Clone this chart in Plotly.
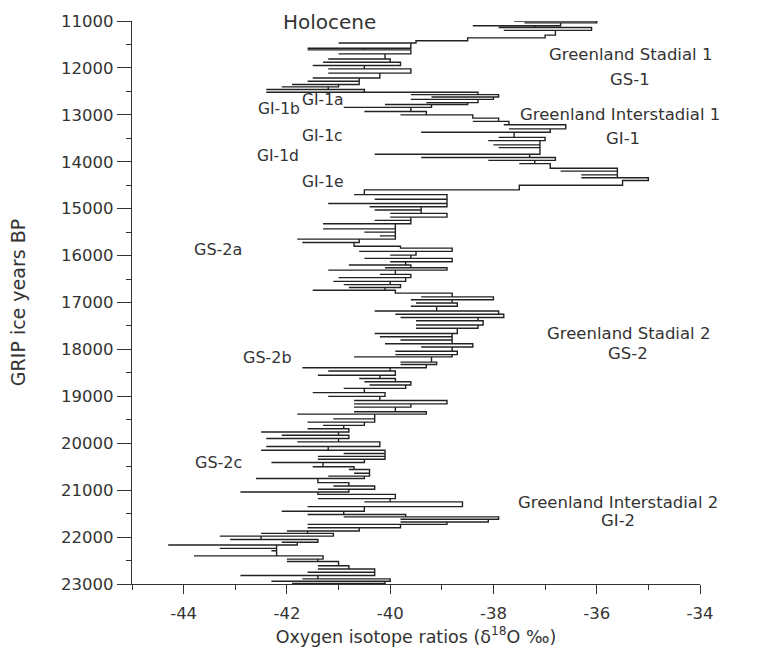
import plotly.graph_objects as go

# Read-off rows of the GRIP d18O record: age (yr BP), low and high value in the row
row_age = [11000, 11040, 11100, 11140, 11200, 11300, 11360, 11420, 11470, 11580,
           11615, 11700, 11810, 11880, 11950, 12020, 12110, 12215, 12285, 12355,
           12405, 12460, 12520, 12570, 12620, 12670, 12740, 12780, 12840, 12930,
           13000, 13070, 13140, 13210, 13300, 13370, 13480, 13550, 13640, 13700,
           13840, 13910, 13970, 14040, 14140, 14200, 14280, 14340, 14400, 14500,
           14600, 14700, 14800, 14890, 14960, 15030, 15100, 15180, 15250, 15320,
           15430, 15500, 15580, 15650, 15720, 15800, 15840, 15910, 15990, 16060,
           16130, 16200, 16260, 16310, 16400, 16470, 16550, 16620, 16680, 16740,
           16800, 16880, 16940, 17010, 17080, 17180, 17250, 17320, 17390, 17480,
           17550, 17660, 17730, 17800, 17880, 17950, 18040, 18110, 18160, 18270,
           18320, 18390, 18460, 18550, 18620, 18690, 18760, 18830, 18920, 19000,
           19090, 19160, 19230, 19330, 19380, 19480, 19550, 19620, 19690, 19760,
           19830, 19900, 19970, 20070, 20150, 20220, 20280, 20340, 20410, 20500,
           20560, 20640, 20700, 20750, 20840, 20910, 20980, 21040, 21090, 21180,
           21250, 21350, 21450, 21520, 21570, 21620, 21680, 21730, 21800, 21870,
           21920, 21980, 22050, 22110, 22170, 22240, 22290, 22400, 22470, 22520,
           22610, 22680, 22750, 22820, 22890, 22940, 22990]
row_low = [-37.6, -37.4, -38.4, -37.9, -37.8, -37.0, -38.5, -39.5, -41.0, -41.6,
           -41.6, -41.0, -41.2, -41.3, -41.5, -41.2, -41.2, -41.5, -41.6, -41.9,
           -42.1, -42.4, -42.4, -39.6, -39.2, -39.6, -39.3, -40.1, -40.9, -40.5,
           -39.8, -38.4, -38.4, -37.8, -37.7, -39.4, -37.9, -38.1, -38.0, -37.9,
           -40.3, -39.4, -38.1, -37.5, -36.6, -36.7, -36.3, -36.3, -35.5, -37.5,
           -40.5, -40.7, -40.3, -41.2, -40.4, -40.3, -40.0, -40.0, -40.3, -41.3,
           -41.3, -40.5, -40.2, -41.8, -41.7, -40.6, -39.6, -40.6, -40.0, -40.5,
           -40.0, -40.8, -40.1, -41.2, -40.2, -41.0, -41.1, -40.9, -40.8, -41.5,
           -39.9, -39.4, -39.6, -39.5, -39.6, -40.3, -39.9, -39.8, -39.5, -39.5,
           -39.5, -40.3, -40.2, -39.8, -40.1, -39.4, -39.9, -39.9, -40.7, -39.8,
           -39.8, -41.7, -41.2, -41.4, -40.6, -40.5, -40.4, -40.9, -41.5, -41.2,
           -40.7, -40.7, -40.7, -40.7, -41.8, -41.1, -41.6, -41.3, -41.6, -42.5,
           -42.1, -42.4, -41.8, -42.4, -42.5, -40.9, -41.4, -41.4, -42.3, -41.5,
           -40.8, -40.7, -41.2, -42.6, -41.4, -41.1, -41.4, -42.9, -40.9, -41.4,
           -40.5, -41.6, -42.1, -41.6, -40.9, -39.8, -39.8, -41.6, -41.6, -42.0,
           -42.5, -43.3, -43.1, -42.1, -44.3, -43.3, -42.3, -43.8, -42.0, -42.0,
           -41.4, -41.4, -41.6, -42.9, -41.7, -42.3, -41.9]
row_high = [-36.0, -36.7, -37.2, -36.1, -36.8, -37.0, -38.5, -39.5, -39.6, -40.5,
            -39.6, -40.1, -40.0, -39.8, -40.5, -39.6, -40.2, -40.6, -40.6, -41.0,
            -41.2, -40.5, -38.3, -37.9, -38.0, -38.3, -38.5, -39.2, -39.6, -39.3,
            -38.4, -37.9, -37.7, -36.6, -36.9, -37.6, -37.0, -37.1, -37.1, -37.1,
            -37.3, -36.8, -37.2, -36.9, -35.6, -35.6, -35.6, -35.0, -35.5, -37.5,
            -40.5, -38.9, -38.9, -38.9, -39.4, -39.4, -38.9, -39.6, -39.6, -39.9,
            -39.9, -39.9, -39.9, -40.6, -40.7, -39.8, -38.8, -39.5, -39.6, -38.8,
            -39.7, -39.6, -38.9, -39.9, -39.6, -39.7, -40.0, -39.8, -40.1, -39.9,
            -38.8, -38.0, -38.8, -38.7, -39.1, -37.9, -37.8, -38.3, -38.2, -38.3,
            -38.7, -38.8, -38.8, -38.8, -38.4, -38.8, -38.7, -38.8, -39.2, -39.1,
            -39.3, -40.0, -39.9, -40.2, -39.9, -39.6, -39.7, -40.5, -40.1, -40.2,
            -38.9, -39.6, -39.9, -39.3, -40.3, -40.3, -40.5, -40.9, -40.8, -41.0,
            -40.8, -41.0, -40.2, -41.2, -40.1, -40.1, -40.1, -40.5, -41.3, -40.7,
            -40.4, -40.4, -40.5, -41.4, -40.8, -40.3, -40.8, -41.4, -39.9, -40.0,
            -38.6, -40.5, -40.9, -39.7, -37.9, -38.1, -38.9, -39.8, -40.6, -41.6,
            -41.1, -42.5, -41.4, -41.8, -42.2, -42.2, -42.2, -41.3, -41.4, -41.0,
            -40.8, -40.3, -40.3, -41.4, -40.0, -40.1, -40.6]

# series traced through each row: low value then high value
age = []
d18o = []
for a, lo, hi in zip(row_age, row_low, row_high):
    age += [a, a]
    d18o += [lo, hi]

x_tick_vals = [-44, -42, -40, -38, -36, -34]
x_tick_text = ["-44", "-42", "-40", "-38", "-36", "-34"]
y_tick_vals = [11000, 12000, 13000, 14000, 15000, 16000, 17000, 18000, 19000, 20000,
               21000, 22000, 23000]
y_tick_text = ["11000", "12000", "13000", "14000", "15000", "16000", "17000", "18000",
               "19000", "20000", "21000", "22000", "23000"]

big_labels = [
    ("Holocene", -41.17, 11020, 20),
    ("Greenland Stadial 1", -35.35, 11720, 16.5),
    ("GS-1", -35.35, 12250, 16.5),
    ("Greenland Interstadial 1", -35.54, 12990, 16.5),
    ("GI-1", -35.5, 13500, 16.5),
    ("Greenland Stadial 2", -35.39, 17660, 16.5),
    ("GS-2", -35.39, 18080, 16.5),
    ("Greenland Interstadial 2", -35.58, 21260, 16.5),
    ("GI-2", -35.58, 21640, 16.5),
    ("GI-1b", -42.15, 12870, 15.5),
    ("GI-1a", -41.31, 12675, 15.5),
    ("GI-1c", -41.31, 13460, 15.5),
    ("GI-1d", -42.17, 13880, 15.5),
    ("GI-1e", -41.31, 14430, 15.5),
    ("GS-2a", -43.33, 15860, 16),
    ("GS-2b", -42.38, 18170, 16),
    ("GS-2c", -43.33, 20410, 16),
]

FONT = "DejaVu Sans"
INK = "#333333"

fig = go.Figure()
fig.add_trace(go.Scatter(
    x=d18o, y=age, mode="lines",
    line=dict(color="#222222", width=1.4, shape="vh"),
    showlegend=False, hoverinfo="skip",
))

for text, x, y, size in big_labels:
    fig.add_annotation(x=x, y=y, xref="x", yref="y", text=text, showarrow=False,
                       font=dict(family=FONT, size=size, color=INK),
                       xanchor="center", yanchor="middle")

fig.update_layout(
    width=758, height=655,
    margin=dict(l=132, r=58, t=21, b=68),
    paper_bgcolor="white", plot_bgcolor="white",
    font=dict(family=FONT, color=INK),
)
fig.update_xaxes(
    range=[-45, -34], tickvals=x_tick_vals, ticktext=x_tick_text,
    ticks="outside", ticklen=9, tickwidth=1.2, tickcolor=INK,
    minor=dict(ticks="outside", dtick=1, ticklen=5, tickcolor=INK),
    showline=True, linecolor=INK, linewidth=1.3, showgrid=False, zeroline=False,
    tickfont=dict(family=FONT, size=16.5, color=INK), ticklabelstandoff=5,
    title=dict(text="Oxygen isotope ratios (δ<sup>18</sup>O ‰)",
               font=dict(family=FONT, size=17.5, color=INK), standoff=8),
)
fig.update_yaxes(
    range=[23000, 11000], tickvals=y_tick_vals, ticktext=y_tick_text,
    ticks="outside", ticklen=14, tickwidth=1.2, tickcolor=INK,
    minor=dict(ticks="outside", dtick=500, ticklen=5, tickcolor=INK),
    showline=True, linecolor=INK, linewidth=1.3, showgrid=False, zeroline=False,
    tickfont=dict(family=FONT, size=16.5, color=INK),
    title=dict(text="GRIP ice years BP",
               font=dict(family=FONT, size=19, color=INK), standoff=30),
)

fig.write_html("out.html")
